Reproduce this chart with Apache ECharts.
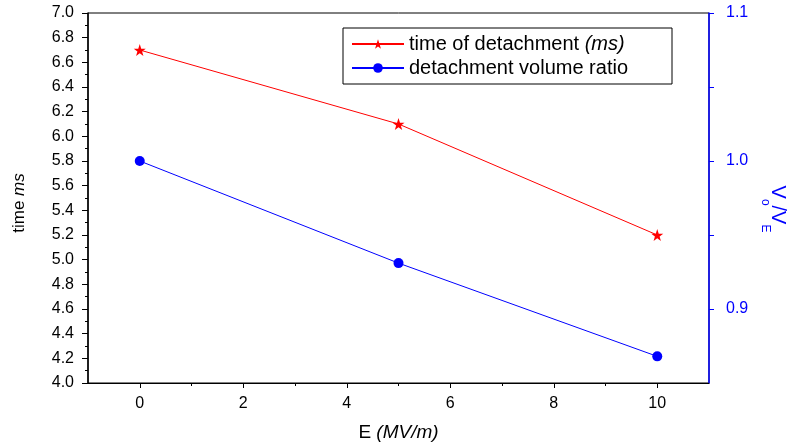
<!DOCTYPE html>
<html><head><meta charset="utf-8">
<script src="https://cdn.jsdelivr.net/npm/echarts@6/dist/echarts.min.js"></script>
<style>html,body{margin:0;padding:0;background:#fff}#c{width:787px;height:446px}</style>
</head><body><div id="c"></div>
<script>
const categories = [0, 5, 10];
const timeValues = [6.7, 6.1, 5.2];
const ratioValues = [1.0, 0.931, 0.868];
const xLabelTicks = [0, 2, 4, 6, 8, 10];
const xMinorTicks = [1, 3, 5, 7, 9];
const rightLabelTicks = [0.9, 1.0, 1.1];
const rightTicks = [0.9, 0.95, 1.0, 1.05, 1.1];

const F = 'Liberation Sans, Arial, sans-serif';
const star = 'path://M50,0 L61.8,35.1 L98.1,35.1 L68.8,56.8 L79.4,90.9 L50,69.5 L20.6,90.9 L31.2,56.8 L1.9,35.1 L38.2,35.1 Z';
const chart = echarts.init(document.getElementById('c'));
chart.setOption({
  animation: false,
  grid: { left: 88, right: 78, top: 13, bottom: 63, outerBoundsMode: 'none', containLabel: false,
          show: true, borderColor: '#000', borderWidth: 1, backgroundColor: 'transparent' },
  legend: {
    left: 343, top: 28, orient: 'vertical', itemWidth: 52, itemHeight: 12, itemGap: 4,
    padding: [6, 44, 6, 8], borderColor: '#000', borderWidth: 1, backgroundColor: '#fff', borderRadius: 0,
    textStyle: { fontFamily: F, fontSize: 20, color: '#000',
      rich: { n: { fontFamily: F, fontSize: 20, color: '#000' }, i: { fontFamily: F, fontSize: 20, fontStyle: 'italic', color: '#000' } } },
    formatter: function (name) {
      if (name === 'time') return '{n|time of detachment }{i|(ms)}';
      return '{n|detachment volume ratio}';
    },
    data: ['time', 'ratio']
  },
  xAxis: [{
    type: 'value', min: -1, max: 11, position: 'bottom',
    axisLine: { show: true, onZero: false, lineStyle: { color: '#000', width: 1 } },
    axisTick: { show: true, inside: false, length: 5, customValues: xLabelTicks, lineStyle: { color: '#000' } },
    axisLabel: { customValues: xLabelTicks, fontFamily: F, fontSize: 16, color: '#000', margin: 13 },
    splitLine: { show: false },
    name: '{n|E }{i|(MV/m)}', nameLocation: 'middle', nameGap: 40,
    nameTextStyle: { fontFamily: F, fontSize: 19, color: '#000',
      rich: { n: { fontFamily: F, fontSize: 19, color: '#000' }, i: { fontFamily: F, fontSize: 19, fontStyle: 'italic', color: '#000' } } }
  }, {
    type: 'value', min: -1, max: 11, position: 'bottom',
    axisLine: { show: false, onZero: false },
    axisTick: { show: true, length: 3, customValues: xMinorTicks, lineStyle: { color: '#000' } },
    axisLabel: { show: false },
    splitLine: { show: false }
  }],
  yAxis: [{
    type: 'value', min: 4, max: 7, interval: 0.2, position: 'left',
    axisLine: { show: true, onZero: false, lineStyle: { color: '#000', width: 1.5 } },
    axisTick: { show: true, length: 6, lineStyle: { color: '#000' } },
    minorTick: { show: true, splitNumber: 2, length: 3, lineStyle: { color: '#000' } },
    axisLabel: { fontFamily: F, fontSize: 16, color: '#000', margin: 14, formatter: v => v.toFixed(1) },
    splitLine: { show: false },
    name: '{n|time }{i|ms}', nameLocation: 'middle', nameRotate: 90, nameGap: 60,
    nameTextStyle: { fontFamily: F, fontSize: 17, color: '#000', padding: [0, 10, 0, 0],
      rich: { n: { fontFamily: F, fontSize: 17, color: '#000' }, i: { fontFamily: F, fontSize: 17, fontStyle: 'italic', color: '#000' } } }
  }, {
    type: 'value', min: 0.85, max: 1.1, position: 'right',
    axisLine: { show: true, onZero: false, lineStyle: { color: '#0000ff', width: 1.5 } },
    axisTick: { show: true, length: 5, customValues: rightTicks, lineStyle: { color: '#0000ff' } },
    axisLabel: { customValues: rightLabelTicks, fontFamily: F, fontSize: 16, color: '#0000ff', margin: 17, formatter: v => v.toFixed(1) },
    splitLine: { show: false },
    name: '{v|V}{s|o}{v|/V}{s|E}', nameLocation: 'middle', nameRotate: -90, nameGap: 45,
    nameTextStyle: { fontFamily: F, fontSize: 20, color: '#0000ff', padding: [0, 0, 0, 22],
      rich: { v: { fontFamily: F, fontSize: 20, color: '#0000ff', lineHeight: 28, verticalAlign: 'top' },
              s: { fontFamily: F, fontSize: 12, color: '#0000ff', lineHeight: 28, verticalAlign: 'bottom' } } }
  }],
  series: [{
    name: 'time', type: 'line', xAxisIndex: 0, yAxisIndex: 0,
    data: categories.map((x, i) => [x, timeValues[i]]),
    symbol: star, symbolSize: 12,
    lineStyle: { color: '#ff0000', width: 1 }, itemStyle: { color: '#ff0000' }
  }, {
    name: 'ratio', type: 'line', xAxisIndex: 0, yAxisIndex: 1,
    data: categories.map((x, i) => [x, ratioValues[i]]),
    symbol: 'circle', symbolSize: 10,
    lineStyle: { color: '#0000ff', width: 1 }, itemStyle: { color: '#0000ff' }
  }]
});
</script></body></html>
